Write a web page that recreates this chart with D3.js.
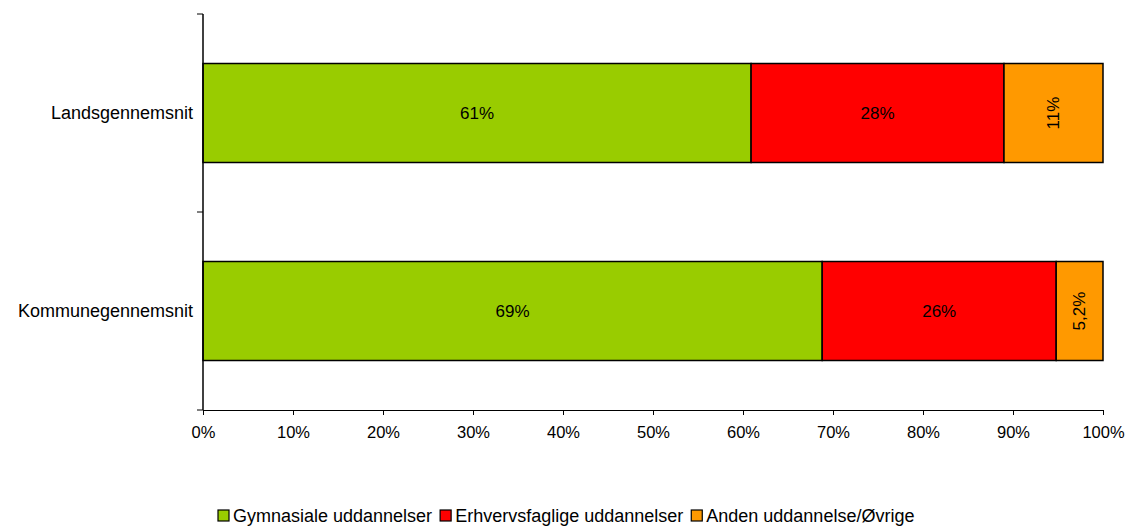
<!DOCTYPE html>
<html>
<head>
<meta charset="utf-8">
<script src="https://cdn.jsdelivr.net/npm/d3@7"></script>
<style>
  body { margin: 0; background: #fff; }
  text { font-family: "Liberation Sans", Arial, sans-serif; }
</style>
</head>
<body>
<div id="chart"></div>
<script>
// Data
const categories = ["Landsgennemsnit", "Kommunegennemsnit"];
const seriesNames = ["Gymnasiale uddannelser", "Erhvervsfaglige uddannelser", "Anden uddannelse/Øvrige"];
const colors = ["#99CC00", "#FF0000", "#FF9900"];
const gymnasiale = [60.9, 68.8];
const erhverv = [28.1, 26.0];
const anden = [11.0, 5.2];
const valueLabels = [["61%", "28%", "11%"], ["69%", "26%", "5,2%"]];
const xTicks = [0, 10, 20, 30, 40, 50, 60, 70, 80, 90, 100];

const W = 1125, H = 526;
const margin = { top: 14, right: 22, bottom: 116, left: 203 },
    width = W - margin.left - margin.right,
    height = H - margin.top - margin.bottom;

const svg = d3.select("#chart").append("svg")
    .attr("width", W)
    .attr("height", H);

const g = svg.append("g")
    .attr("transform", `translate(${margin.left},${margin.top})`);

const x = d3.scaleLinear().domain([0, 100]).range([0, width]);
const y = d3.scaleBand().domain(categories).range([0, height]).paddingInner(0.5).paddingOuter(0.25);
const yEdges = d3.scaleLinear().domain([0, categories.length]).range([0, height]);

// Build stacked rows
const rows = categories.map((c, i) => ({
    cat: c,
    vals: [gymnasiale[i], erhverv[i], anden[i]],
    labels: valueLabels[i]
}));

rows.forEach(r => {
    let start = 0;
    r.vals.forEach((v, j) => {
        const x0 = x(start), x1 = x(start + v);
        g.append("rect")
            .attr("x", x0)
            .attr("y", y(r.cat))
            .attr("width", x1 - x0)
            .attr("height", y.bandwidth())
            .attr("fill", colors[j])
            .attr("stroke", "#000")
            .attr("stroke-width", 1.5);
        const cx = (x0 + x1) / 2, cy = y(r.cat) + y.bandwidth() / 2;
        const t = g.append("text")
            .attr("font-size", "17px")
            .attr("text-anchor", "middle")
            .attr("dominant-baseline", "central")
            .attr("fill", "#000")
            .text(r.labels[j]);
        if (j === 2) {
            t.attr("transform", `translate(${cx},${cy}) rotate(-90)`);
        } else {
            t.attr("x", cx).attr("y", cy);
        }
        start += v;
    });
});

// Y axis
g.append("line")
    .attr("x1", 0).attr("x2", 0)
    .attr("y1", 0).attr("y2", height)
    .attr("stroke", "#000").attr("stroke-width", 1.5);
d3.range(categories.length + 1).forEach(i => {
    g.append("line")
        .attr("x1", -6).attr("x2", 0)
        .attr("y1", yEdges(i)).attr("y2", yEdges(i))
        .attr("stroke", "#000");
});
categories.forEach(c => {
    g.append("text")
        .attr("x", -10)
        .attr("y", y(c) + y.bandwidth() / 2)
        .attr("text-anchor", "end")
        .attr("dominant-baseline", "central")
        .attr("font-size", "18px")
        .text(c);
});

// X axis
const xAxis = g.append("g")
    .attr("transform", `translate(0,${height})`)
    .call(d3.axisBottom(x).tickValues(xTicks).tickFormat(d => d + "%").tickSize(5).tickSizeOuter(0));
xAxis.select(".domain").attr("stroke", "#000");
xAxis.selectAll("text")
    .attr("font-size", "16.5px")
    .attr("fill", "#000")
    .attr("dy", "1.2em")
    .style("font-family", "'Liberation Sans', Arial, sans-serif");

// Legend
const legend = svg.append("g").attr("transform", "translate(218,510)");
let lx = 0;
seriesNames.forEach((name, i) => {
    const item = legend.append("g").attr("transform", `translate(${lx},0)`);
    item.append("rect")
        .attr("width", 11).attr("height", 11)
        .attr("fill", colors[i])
        .attr("stroke", "#000").attr("stroke-width", 1.2);
    const t = item.append("text")
        .attr("x", 15).attr("y", 6)
        .attr("dominant-baseline", "central")
        .attr("font-size", "18px")
        .text(name);
    lx += 15 + t.node().getComputedTextLength() + 8;
});
</script>
</body>
</html>
